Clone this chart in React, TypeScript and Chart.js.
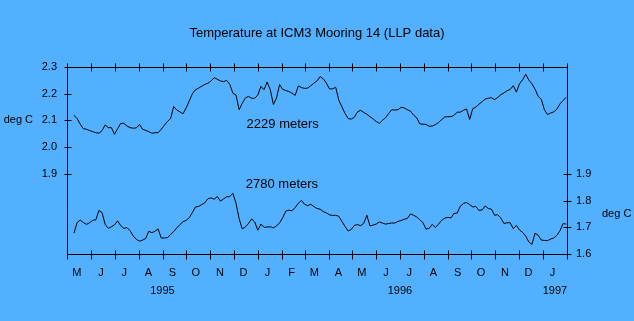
import React, { useEffect, useRef } from 'react';
import { Chart, registerables } from 'chart.js';

Chart.register(...registerables);

const TITLE = 'Temperature at ICM3 Mooring 14 (LLP data)';
// Day offsets (from 1 May 1995) of each month start, May 1995 .. Feb 1997
const MONTH_STARTS = [0, 31, 61, 92, 123, 153, 184, 214, 245, 276, 305, 336, 366, 397, 427, 458, 489, 519, 550, 580, 611, 642];
const MONTH_LABELS = ['M', 'J', 'J', 'A', 'S', 'O', 'N', 'D', 'J', 'F', 'M', 'A', 'M', 'J', 'J', 'A', 'S', 'O', 'N', 'D', 'J'];
const YEAR_LABELS = ['1995', '1996', '1997'];
const YEAR_MID_DAYS = [122.5, 427.5, 626.5];
const LEFT_TICKS = [1.9, 2.0, 2.1, 2.2, 2.3];
const RIGHT_TICKS = [1.6, 1.7, 1.8, 1.9];
const Y_MIN = 1.6;
const Y_MAX = 2.3;
const X_MIN = 0;
const X_MAX = 642;
const DAY_START = 9;
const DAY_STEP = 4;
const SERIES_NAMES = ['2229 meters', '2780 meters'];
const SERIES_LABEL_DAYS = [277, 276];
const SERIES_LABEL_TEMPS = [2.086, 1.862];
const UNIT = 'deg C';

const temp2229 = [
  2.119, 2.107, 2.086, 2.069, 2.067, 2.062, 2.058, 2.054, 2.052, 2.062,
  2.083, 2.073, 2.073, 2.048, 2.069, 2.089, 2.089, 2.079, 2.073, 2.071,
  2.072, 2.085, 2.067, 2.063, 2.058, 2.052, 2.054, 2.054, 2.067, 2.082,
  2.096, 2.107, 2.152, 2.139, 2.132, 2.125, 2.147, 2.173, 2.200, 2.215,
  2.221, 2.228, 2.235, 2.239, 2.248, 2.260, 2.254, 2.248, 2.245, 2.250,
  2.235, 2.202, 2.195, 2.140, 2.164, 2.184, 2.190, 2.183, 2.183, 2.195,
  2.228, 2.215, 2.244, 2.215, 2.160, 2.184, 2.234, 2.216, 2.212, 2.208,
  2.202, 2.194, 2.229, 2.223, 2.220, 2.221, 2.230, 2.239, 2.248, 2.264,
  2.256, 2.240, 2.218, 2.218, 2.224, 2.176, 2.151, 2.126, 2.107, 2.105,
  2.112, 2.132, 2.138, 2.130, 2.123, 2.114, 2.106, 2.096, 2.089, 2.100,
  2.110, 2.126, 2.140, 2.139, 2.140, 2.149, 2.147, 2.140, 2.135, 2.120,
  2.110, 2.087, 2.086, 2.085, 2.078, 2.079, 2.084, 2.092, 2.103, 2.113,
  2.114, 2.114, 2.119, 2.131, 2.131, 2.138, 2.143, 2.104, 2.144, 2.150,
  2.161, 2.170, 2.180, 2.183, 2.185, 2.178, 2.186, 2.196, 2.203, 2.211,
  2.216, 2.230, 2.206, 2.237, 2.252, 2.273, 2.251, 2.237, 2.217, 2.190,
  2.179, 2.140, 2.122, 2.128, 2.132, 2.142, 2.162, 2.175, 2.186,
];

const temp2780 = [
  1.678, 1.718, 1.727, 1.718, 1.711, 1.717, 1.726, 1.728, 1.763, 1.755,
  1.711, 1.696, 1.702, 1.709, 1.724, 1.706, 1.696, 1.699, 1.687, 1.668,
  1.655, 1.648, 1.652, 1.658, 1.685, 1.680, 1.685, 1.694, 1.660, 1.660,
  1.661, 1.673, 1.684, 1.698, 1.710, 1.721, 1.726, 1.736, 1.755, 1.776,
  1.778, 1.785, 1.792, 1.807, 1.810, 1.805, 1.815, 1.798, 1.806, 1.814,
  1.815, 1.827, 1.790, 1.732, 1.694, 1.701, 1.714, 1.731, 1.720, 1.689,
  1.712, 1.700, 1.701, 1.702, 1.698, 1.705, 1.717, 1.736, 1.761, 1.764,
  1.762, 1.774, 1.790, 1.801, 1.786, 1.781, 1.786, 1.778, 1.770, 1.768,
  1.759, 1.754, 1.747, 1.744, 1.745, 1.741, 1.722, 1.703, 1.686, 1.692,
  1.707, 1.710, 1.706, 1.715, 1.745, 1.705, 1.708, 1.712, 1.720, 1.716,
  1.712, 1.714, 1.716, 1.716, 1.722, 1.725, 1.730, 1.733, 1.750, 1.745,
  1.739, 1.728, 1.718, 1.693, 1.696, 1.711, 1.699, 1.712, 1.726, 1.734,
  1.737, 1.735, 1.752, 1.753, 1.779, 1.789, 1.793, 1.785, 1.776, 1.778,
  1.763, 1.765, 1.780, 1.770, 1.768, 1.745, 1.747, 1.735, 1.714, 1.717,
  1.717, 1.695, 1.707, 1.690, 1.681, 1.667, 1.645, 1.636, 1.678, 1.670,
  1.652, 1.651, 1.650, 1.656, 1.660, 1.670, 1.687, 1.714, 1.712,
];

const FONT = "'Liberation Sans', Arial, Helvetica, sans-serif";
const AXIS_SIZE = 11;
const BG = '#52B0FF';
const INK = '#000000';

type XTick = { value: number; label: string | string[] };

export default function App() {
  const ref = useRef<HTMLCanvasElement>(null);

  useEffect(() => {
    const canvas = ref.current;
    if (!canvas) return;

    const toPts = (arr: number[]) => arr.map((v, i) => ({ x: DAY_START + i * DAY_STEP, y: v }));

    const xTicks: XTick[] = [
      ...MONTH_LABELS.map((m, i) => ({ value: MONTH_STARTS[i] + 12.5, label: m })),
      ...YEAR_LABELS.map((y, i) => ({ value: YEAR_MID_DAYS[i], label: ['', y] })),
    ].sort((a, b) => a.value - b.value);

    const framePlugin = {
      id: 'frameTicks',
      afterDraw(chart: any) {
        const { ctx, chartArea } = chart;
        const xs = chart.scales.x;
        const ys = chart.scales.y;
        const ys2 = chart.scales.y2;
        const L = Math.round(chartArea.left) + 0.5;
        const R = Math.round(chartArea.right) + 0.5;
        const T = Math.round(chartArea.top) + 0.5;
        const B = Math.round(chartArea.bottom) + 0.5;
        ctx.save();
        ctx.strokeStyle = INK;
        ctx.lineWidth = 1;
        ctx.beginPath();
        ctx.moveTo(L, T);
        ctx.lineTo(R, T);
        ctx.lineTo(R, B);
        ctx.lineTo(L, B);
        ctx.closePath();
        MONTH_STARTS.forEach((d) => {
          const px = Math.round(xs.getPixelForValue(d)) + 0.5;
          ctx.moveTo(px, B - 4);
          ctx.lineTo(px, B + 5);
          ctx.moveTo(px, T - 4);
          ctx.lineTo(px, T + 4);
        });
        LEFT_TICKS.forEach((v) => {
          const py = Math.round(ys.getPixelForValue(v)) + 0.5;
          ctx.moveTo(L - 3, py);
          ctx.lineTo(L + 4, py);
        });
        RIGHT_TICKS.forEach((v) => {
          const py = Math.round(ys2.getPixelForValue(v)) + 0.5;
          ctx.moveTo(R - 4, py);
          ctx.lineTo(R + 4, py);
        });
        ctx.stroke();

        ctx.fillStyle = INK;
        ctx.textBaseline = 'middle';
        ctx.font = `13px ${FONT}`;
        ctx.textAlign = 'center';
        SERIES_NAMES.forEach((name, i) => {
          ctx.fillText(name, xs.getPixelForValue(SERIES_LABEL_DAYS[i]), ys.getPixelForValue(SERIES_LABEL_TEMPS[i]));
        });
        ctx.font = `${AXIS_SIZE}px ${FONT}`;
        ctx.textAlign = 'right';
        ctx.fillText(UNIT, ys.left + 33, ys.getPixelForValue(2.1));
        ctx.textAlign = 'left';
        ctx.fillText(UNIT, ys2.right - 32, ys2.getPixelForValue(1.75));
        ctx.restore();
      },
    };

    const tickFont = { family: FONT, size: AXIS_SIZE };

    const chart = new Chart(canvas, {
      type: 'line',
      data: {
        datasets: [
          {
            label: SERIES_NAMES[0],
            data: toPts(temp2229),
            borderColor: INK,
            borderWidth: 1,
            pointRadius: 0,
            tension: 0,
            fill: false,
            xAxisID: 'x',
            yAxisID: 'y',
          },
          {
            label: SERIES_NAMES[1],
            data: toPts(temp2780),
            borderColor: INK,
            borderWidth: 1,
            pointRadius: 0,
            tension: 0,
            fill: false,
            xAxisID: 'x',
            yAxisID: 'y',
          },
        ],
      },
      options: {
        responsive: false,
        animation: false,
        devicePixelRatio: 1,
        layout: { padding: 0 },
        events: [],
        plugins: {
          legend: { display: false },
          tooltip: { enabled: false },
          title: {
            display: true,
            text: TITLE,
            color: INK,
            font: { family: FONT, size: 13, weight: 'normal', lineHeight: 1.2 },
            padding: { top: 26, bottom: 25.4 },
          },
        },
        scales: {
          x: {
            type: 'linear',
            position: 'bottom',
            min: X_MIN,
            max: X_MAX,
            afterBuildTicks: (s: any) => {
              s.ticks = xTicks.map((t) => ({ value: t.value }));
            },
            afterFit: (s: any) => {
              s.height = 67;
            },
            ticks: {
              autoSkip: false,
              maxRotation: 0,
              minRotation: 0,
              padding: 10,
              color: INK,
              font: { family: FONT, size: AXIS_SIZE, lineHeight: '18px' } as any,
              callback: (_v: any, i: number) => xTicks[i].label,
            },
            grid: { display: false, drawTicks: false },
            border: { display: false },
          },
          y: {
            type: 'linear',
            position: 'left',
            min: Y_MIN,
            max: Y_MAX,
            afterBuildTicks: (s: any) => {
              s.ticks = LEFT_TICKS.map((v) => ({ value: v }));
            },
            afterFit: (s: any) => {
              s.width = 67;
            },
            ticks: {
              padding: 10,
              color: INK,
              font: tickFont,
              callback: (v: any) => Number(v).toFixed(1),
            },
            grid: { display: false, drawTicks: false },
            border: { display: false },
          },
          y2: {
            type: 'linear',
            position: 'right',
            min: Y_MIN,
            max: Y_MAX,
            afterBuildTicks: (s: any) => {
              s.ticks = RIGHT_TICKS.map((v) => ({ value: v }));
            },
            afterFit: (s: any) => {
              s.width = 67;
            },
            ticks: {
              padding: 9,
              color: INK,
              font: tickFont,
              callback: (v: any) => Number(v).toFixed(1),
            },
            grid: { display: false, drawTicks: false },
            border: { display: false },
          },
        },
      } as any,
      plugins: [framePlugin],
    });

    return () => chart.destroy();
  }, []);

  return (
    <div style={{ position: 'fixed', left: 0, top: 0, width: 634, height: 321, background: BG }}>
      <canvas ref={ref} width={634} height={321} style={{ display: 'block', width: 634, height: 321 }} />
    </div>
  );
}
